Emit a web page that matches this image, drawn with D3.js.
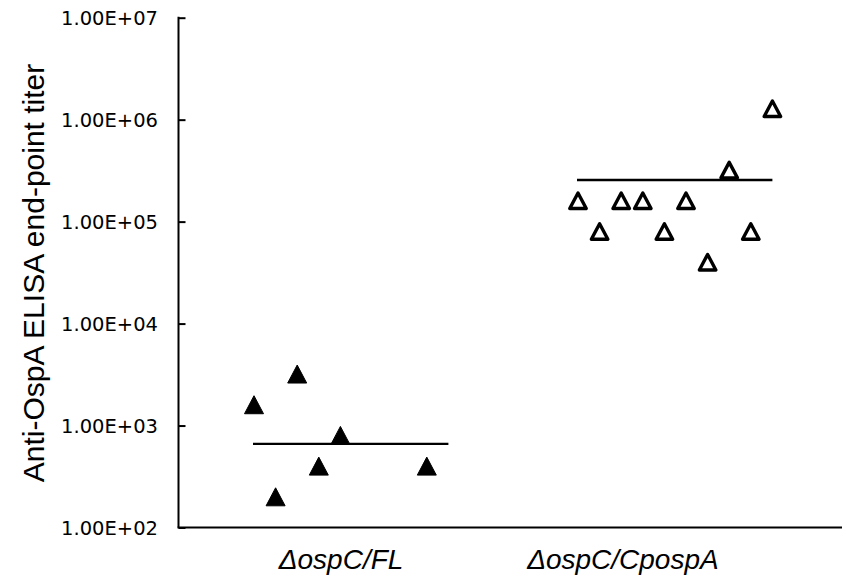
<!DOCTYPE html>
<html>
<head>
<meta charset="utf-8">
<script src="https://cdn.jsdelivr.net/npm/d3@7/dist/d3.min.js"></script>
<style>
  html, body { margin: 0; padding: 0; background: #fff; }
  svg { display: block; }
</style>
</head>
<body>
<svg id="chart" width="842" height="580"></svg>
<script>
// ---- data ----
const categories = ["\u0394ospC/FL", "\u0394ospC/CpospA"];
const categoryLabelX = [5.03, 18.08];
const fl_x = [1, 2, 3, 4, 5, 9];
const fl_titer = [1600, 200, 3200, 400, 800, 400];
const fl_mean = 660;
const fl_meanRange = [1, 10];
const cpospA_x = [16, 17, 18, 19, 20, 21, 22, 23, 24, 25];
const cpospA_titer = [160000, 80000, 160000, 160000, 80000, 160000, 40000, 320000, 80000, 1280000];
const cpospA_mean = 256000;
const cpospA_meanRange = [16, 25];
const yTicks = [1e2, 1e3, 1e4, 1e5, 1e6, 1e7];
const yTickLabels = ["1.00E+02", "1.00E+03", "1.00E+04", "1.00E+05", "1.00E+06", "1.00E+07"];
const yTitle = "Anti-OspA ELISA end-point titer";

// ---- layout ----
const svg = d3.select("#chart");
const axisX = 178.5, axisTop = 17.7, axisBottom = 527.5, axisRight = 842;
const x = d3.scaleLinear().domain([1, 25]).range([254, 772.4]);
const y = d3.scaleLog().domain([1e2, 1e7]).range([axisBottom, axisTop]);

// y axis
const yAxis = d3.axisRight(y).tickValues(yTicks).tickSize(7).tickFormat("");
const gy = svg.append("g").attr("transform", `translate(${axisX},0)`).call(yAxis);
gy.select(".domain").remove();
gy.selectAll(".tick line").attr("stroke", "#000").attr("stroke-width", 2);
svg.append("line").attr("x1", axisX).attr("x2", axisX).attr("y1", axisTop - 1).attr("y2", axisBottom)
  .attr("stroke", "#000").attr("stroke-width", 2);
// x axis line
svg.append("line").attr("x1", axisX - 1).attr("x2", axisRight).attr("y1", axisBottom).attr("y2", axisBottom)
  .attr("stroke", "#000").attr("stroke-width", 2);

// tick labels
svg.append("g").selectAll("text").data(yTicks).join("text")
  .attr("x", 158).attr("y", d => y(d))
  .attr("dy", "0.36em")
  .attr("text-anchor", "end")
  .attr("font-family", "DejaVu Sans, Verdana, sans-serif")
  .attr("font-size", 19.5)
  .attr("fill", "#000")
  .text((d, i) => yTickLabels[i]);

// y title
svg.append("text")
  .attr("transform", `translate(44,273) rotate(-90)`)
  .attr("text-anchor", "middle")
  .attr("font-family", "Liberation Sans, Arial, sans-serif")
  .attr("font-size", 30)
  .attr("fill", "#000")
  .text(yTitle);

// category labels
svg.append("g").selectAll("text").data(categories).join("text")
  .attr("x", (d, i) => x(categoryLabelX[i])).attr("y", 569)
  .attr("text-anchor", "middle")
  .attr("font-family", "Liberation Sans, Arial, sans-serif")
  .attr("font-style", "italic")
  .attr("font-size", 28)
  .attr("fill", "#000")
  .text(d => d);

// mean lines
const means = [
  {v: fl_mean, r: fl_meanRange},
  {v: cpospA_mean, r: cpospA_meanRange}
];
svg.append("g").selectAll("line").data(means).join("line")
  .attr("x1", d => x(d.r[0]) - 1).attr("x2", d => x(d.r[1]))
  .attr("y1", d => y(d.v)).attr("y2", d => y(d.v))
  .attr("stroke", "#000").attr("stroke-width", 2.3);

// markers
function tri(w, h) {
  return `M0,${-h/2} L${w/2},${h/2} L${-w/2},${h/2} Z`;
}
const flData = fl_x.map((d, i) => ({x: d, v: fl_titer[i]}));
const cpData = cpospA_x.map((d, i) => ({x: d, v: cpospA_titer[i]}));

svg.append("g").selectAll("path").data(flData).join("path")
  .attr("transform", d => `translate(${x(d.x)},${y(d.v)})`)
  .attr("d", tri(19, 18))
  .attr("fill", "#000")
  .attr("stroke", "#000").attr("stroke-width", 1).attr("stroke-linejoin", "round");

svg.append("g").selectAll("path").data(cpData).join("path")
  .attr("transform", d => `translate(${x(d.x)},${y(d.v)})`)
  .attr("d", tri(16.5, 15.5))
  .attr("fill", "#fff")
  .attr("stroke", "#000").attr("stroke-width", 3.4).attr("stroke-linejoin", "round");
</script>
</body>
</html>
